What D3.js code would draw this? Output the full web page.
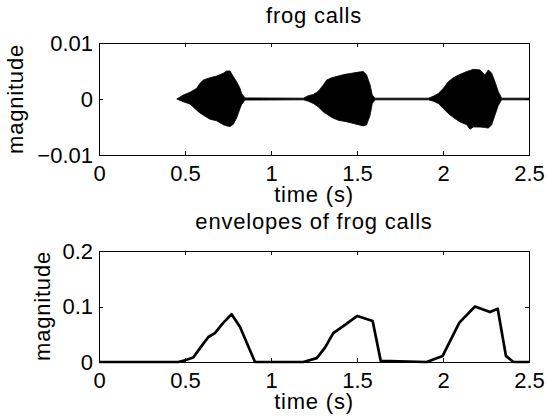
<!DOCTYPE html>
<html>
<head>
<meta charset="utf-8">
<script src="https://cdn.jsdelivr.net/npm/d3@7"></script>
<style>
  body { margin: 0; background: #fff; }
  svg { display: block; font-family: "Liberation Sans", Arial, sans-serif; }
  .axis path, .axis line { stroke: #000; stroke-width: 1; shape-rendering: crispEdges; }
  .axis text { font-size: 22px; fill: #000; font-family: "Liberation Sans", Arial, sans-serif; }
  .lbl { font-size: 22px; letter-spacing: 0.8px; fill: #000; }
</style>
</head>
<body>
<svg width="547" height="416"></svg>
<script>
// waveform envelope (the raw signal is drawn as its filled min/max hull)
let waveTime  = [0.452, 0.490, 0.529, 0.568, 0.587, 0.607, 0.645, 0.684, 0.723, 0.742, 0.762, 0.781, 0.800, 0.820, 0.829, 0.849,
                 1.188, 1.217, 1.246, 1.275, 1.304, 1.324, 1.353, 1.391, 1.430, 1.469, 1.508, 1.537, 1.556, 1.576, 1.589, 1.605,
                 1.915, 1.944, 1.973, 2.002, 2.031, 2.060, 2.099, 2.138, 2.157, 2.176, 2.215, 2.244, 2.264, 2.283, 2.302, 2.322, 2.341, 2.5];
let waveUpper = [0, 0.0007, 0.0012, 0.0019, 0.0028, 0.0034, 0.0038, 0.0041, 0.0046, 0.0050, 0.0050, 0.0040, 0.0031, 0.0019, 0.0010, 0.0002,
                 0.00015, 0.0006, 0.0008, 0.0014, 0.0025, 0.0034, 0.0038, 0.0041, 0.0044, 0.0046, 0.0048, 0.0049, 0.0043, 0.0025, 0.0007, 0.00015,
                 0.00015, 0.0005, 0.0010, 0.0019, 0.0031, 0.0038, 0.0044, 0.0049, 0.0051, 0.0053, 0.0052, 0.0043, 0.0052, 0.0046, 0.0031, 0.0013, 0.00015, 0.00015];
let waveLower = [0, -0.0005, -0.0009, -0.0020, -0.0025, -0.0029, -0.0036, -0.0039, -0.0046, -0.0048, -0.0049, -0.0045, -0.0034, -0.0017, -0.0010, -0.0002,
                 -0.00015, -0.0004, -0.0008, -0.0014, -0.0023, -0.0027, -0.0033, -0.0038, -0.0040, -0.0043, -0.0046, -0.0048, -0.0046, -0.0029, -0.0008, -0.00015,
                 -0.00015, -0.0004, -0.0008, -0.0017, -0.0026, -0.0033, -0.0041, -0.0046, -0.0054, -0.0050, -0.0050, -0.0051, -0.0052, -0.0046, -0.0029, -0.0011, -0.00015, -0.00015];

// envelopes
let envTime  = [0, 0.461, 0.5, 0.548, 0.597, 0.636, 0.674, 0.723, 0.771, 0.820, 0.907,
                1.188, 1.266, 1.314, 1.362, 1.430, 1.502, 1.591, 1.638,
                1.905, 1.998, 2.095, 2.186, 2.273, 2.318, 2.366, 2.409, 2.5];
let envValue = [0, 0, 0.003, 0.008, 0.029, 0.045, 0.052, 0.071, 0.086, 0.063, 0,
                0, 0.007, 0.026, 0.052, 0.067, 0.083, 0.074, 0.002,
                0, 0.011, 0.071, 0.100, 0.090, 0.096, 0.011, 0, 0];

let xTicks = [0, 0.5, 1, 1.5, 2, 2.5];
let xTickLabels = ["0", "0.5", "1", "1.5", "2", "2.5"];
let waveYTicks = [-0.01, 0, 0.01];
let waveYTickLabels = ["\u22120.01", "0", "0.01"];
let envYTicks = [0, 0.1, 0.2];
let envYTickLabels = ["0", "0.1", "0.2"];

let svg = d3.select('svg');
let left = 99, right = 529;

function drawAxes(g, xScale, yScale, yTicks, yLabels, top, bottom) {
    g.append('g').attr('class', 'axis')
        .attr('transform', `translate(0,${bottom})`)
        .call(d3.axisBottom(xScale).tickValues(xTicks).tickSize(-4).tickSizeOuter(0).tickPadding(10)
              .tickFormat((d, i) => xTickLabels[i]));
    g.append('g').attr('class', 'axis')
        .attr('transform', `translate(0,${top})`)
        .call(d3.axisTop(xScale).tickValues(xTicks).tickSize(-4).tickSizeOuter(0).tickFormat(''));
    g.append('g').attr('class', 'axis')
        .attr('transform', `translate(${left},0)`)
        .call(d3.axisLeft(yScale).tickValues(yTicks).tickSize(-4).tickSizeOuter(0).tickPadding(6)
              .tickFormat((d, i) => yLabels[i]));
    g.append('g').attr('class', 'axis')
        .attr('transform', `translate(${right},0)`)
        .call(d3.axisRight(yScale).tickValues(yTicks).tickSize(-4).tickSizeOuter(0).tickFormat(''));
}

// ---- top: frog calls
let x = d3.scaleLinear().domain([0, 2.5]).range([left, right]);
let y1 = d3.scaleLinear().domain([-0.01, 0.01]).range([155, 43]);
let g1 = svg.append('g');

let waveData = waveTime.map((t, i) => ({ t: t, hi: waveUpper[i], lo: waveLower[i] }));
g1.append('path')
    .datum(waveData)
    .attr('d', d3.area().x(d => x(d.t)).y0(d => y1(d.lo)).y1(d => y1(d.hi)))
    .style('fill', '#000')
    .style('stroke', '#000')
    .style('stroke-width', 0.8);

drawAxes(g1, x, y1, waveYTicks, waveYTickLabels, 43, 155);

g1.append('text').attr('class', 'lbl')
    .attr('x', (left + right) / 2).attr('y', 23)
    .attr('text-anchor', 'middle').text('frog calls');
g1.append('text').attr('class', 'lbl')
    .attr('x', (left + right) / 2).attr('y', 202)
    .attr('text-anchor', 'middle').text('time (s)');
g1.append('text').attr('class', 'lbl')
    .attr('transform', 'rotate(-90)')
    .attr('x', -99).attr('y', 23)
    .attr('text-anchor', 'middle').text('magnitude');

// ---- bottom: envelopes
let y2 = d3.scaleLinear().domain([0, 0.2]).range([362, 251]);
let g2 = svg.append('g');

drawAxes(g2, x, y2, envYTicks, envYTickLabels, 251, 362);

let envData = envTime.map((t, i) => ({ t: t, v: envValue[i] }));
g2.append('path')
    .datum(envData)
    .attr('d', d3.line().x(d => x(d.t)).y(d => y2(d.v)))
    .style('fill', 'none')
    .style('stroke', '#000')
    .style('stroke-width', 2.7)
    .style('stroke-linejoin', 'round');

g2.append('text').attr('class', 'lbl')
    .attr('x', (left + right) / 2).attr('y', 229)
    .attr('text-anchor', 'middle').text('envelopes of frog calls');
g2.append('text').attr('class', 'lbl')
    .attr('x', (left + right) / 2).attr('y', 409)
    .attr('text-anchor', 'middle').text('time (s)');
g2.append('text').attr('class', 'lbl')
    .attr('transform', 'rotate(-90)')
    .attr('x', -306).attr('y', 50)
    .attr('text-anchor', 'middle').text('magnitude');
</script>
</body>
</html>
